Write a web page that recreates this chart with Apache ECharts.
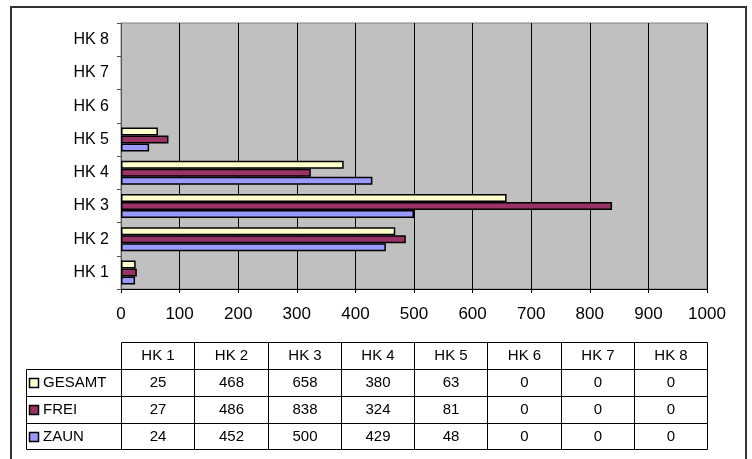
<!DOCTYPE html>
<html>
<head>
<meta charset="utf-8">
<script src="https://cdn.jsdelivr.net/npm/echarts@6/dist/echarts.min.js"></script>
<style>
  html, body { margin: 0; padding: 0; background: #fff; }
  #chart { width: 752px; height: 459px; }
</style>
</head>
<body>
<div id="chart"></div>
<script>
// Categories and series values
const categories = ['HK 1', 'HK 2', 'HK 3', 'HK 4', 'HK 5', 'HK 6', 'HK 7', 'HK 8'];
const seriesNames = ['GESAMT', 'FREI', 'ZAUN'];
const gesamt = [25, 468, 658, 380, 63, 0, 0, 0];
const frei = [27, 486, 838, 324, 81, 0, 0, 0];
const zaun = [24, 452, 500, 429, 48, 0, 0, 0];
const valueMin = 0;
const valueMax = 1000;
const valueStep = 100;

const seriesValues = [gesamt, frei, zaun];
const colors = ['#FFFFCC', '#993366', '#9999FF'];
const FONT = 'Liberation Sans, Arial, sans-serif';

const chart = echarts.init(document.getElementById('chart'), null, { renderer: 'canvas' });

// zero-valued bars get no outline so nothing shows for empty categories
function barData(values) {
  return values.map(v => v === 0 ? { value: v, itemStyle: { borderWidth: 0 } } : v);
}

const option = {
  animation: false,
  backgroundColor: '#ffffff',
  grid: {
    left: 121, right: 45, top: 23, bottom: 170,
    show: true,
    backgroundColor: '#C0C0C0',
    borderColor: '#808080',
    borderWidth: 1
  },
  xAxis: {
    type: 'value',
    min: valueMin, max: valueMax, interval: valueStep,
    axisLine: { show: true, lineStyle: { color: '#000', width: 1 } },
    axisTick: { show: true, length: 4, lineStyle: { color: '#000' } },
    axisLabel: {
      fontFamily: FONT, fontSize: 17, color: '#000', margin: 17,
      formatter: v => String(v)
    },
    splitLine: { show: true, lineStyle: { color: '#000', width: 1 } }
  },
  yAxis: {
    type: 'category',
    data: categories,
    axisLine: { show: true, lineStyle: { color: '#555', width: 1 } },
    axisTick: { show: true, length: 4, lineStyle: { color: '#555' } },
    axisLabel: { fontFamily: FONT, fontSize: 16, color: '#000', margin: 12 },
    splitLine: { show: false }
  },
  series: seriesNames.map((name, i) => ({
    name: name,
    type: 'bar',
    data: barData(seriesValues[i]),
    barWidth: 8,
    barGap: '0%',
    itemStyle: { color: colors[i], borderColor: '#000', borderWidth: 1.5 }
  }))
};

chart.setOption(option);

// Data table under the axis, columns aligned to the value axis bands
function buildTable() {
  const elements = [];
  const colEdges = [];
  const step = (valueMax - valueMin) / categories.length;
  for (let i = 0; i <= categories.length; i++) {
    colEdges.push(Math.round(chart.convertToPixel({ xAxisIndex: 0 }, valueMin + i * step)) + 0.5);
  }
  const rowEdges = [342.5, 369.5, 396.5, 423.5, 449.5];
  const headLeft = 26.5;
  const lineStyle = { stroke: '#000', lineWidth: 1 };

  // horizontal rules
  elements.push({ type: 'line', shape: { x1: colEdges[0], y1: rowEdges[0], x2: colEdges[categories.length], y2: rowEdges[0] }, style: lineStyle });
  for (let r = 1; r < rowEdges.length; r++) {
    elements.push({ type: 'line', shape: { x1: headLeft, y1: rowEdges[r], x2: colEdges[categories.length], y2: rowEdges[r] }, style: lineStyle });
  }
  // vertical rules
  elements.push({ type: 'line', shape: { x1: headLeft, y1: rowEdges[1], x2: headLeft, y2: rowEdges[4] }, style: lineStyle });
  for (let c = 0; c <= categories.length; c++) {
    elements.push({ type: 'line', shape: { x1: colEdges[c], y1: rowEdges[0], x2: colEdges[c], y2: rowEdges[4] }, style: lineStyle });
  }
  // header row
  categories.forEach((cat, c) => {
    elements.push({
      type: 'text',
      style: {
        text: cat, x: (colEdges[c] + colEdges[c + 1]) / 2, y: (rowEdges[0] + rowEdges[1]) / 2,
        textAlign: 'center', textVerticalAlign: 'middle', font: '15px ' + FONT, fill: '#000'
      }
    });
  });
  // series rows with legend keys
  seriesNames.forEach((name, s) => {
    const cy = (rowEdges[s + 1] + rowEdges[s + 2]) / 2;
    elements.push({
      type: 'rect',
      shape: { x: 29.5, y: Math.round(cy - 5) + 0.5, width: 9, height: 9 },
      style: { fill: colors[s], stroke: '#000', lineWidth: 1.5 }
    });
    elements.push({
      type: 'text',
      style: { text: name, x: 43, y: cy, textAlign: 'left', textVerticalAlign: 'middle', font: '15px ' + FONT, fill: '#000' }
    });
    seriesValues[s].forEach((v, c) => {
      elements.push({
        type: 'text',
        style: {
          text: String(v), x: (colEdges[c] + colEdges[c + 1]) / 2, y: cy,
          textAlign: 'center', textVerticalAlign: 'middle', font: '15px ' + FONT, fill: '#000'
        }
      });
    });
  });
  // outer frame, running past the bottom edge of the canvas
  elements.push({
    type: 'rect',
    shape: { x: 11, y: 7, width: 735, height: 470 },
    style: { fill: 'none', stroke: '#333', lineWidth: 2 }
  });
  chart.setOption({ graphic: { elements: elements } });
}
buildTable();
</script>
</body>
</html>
